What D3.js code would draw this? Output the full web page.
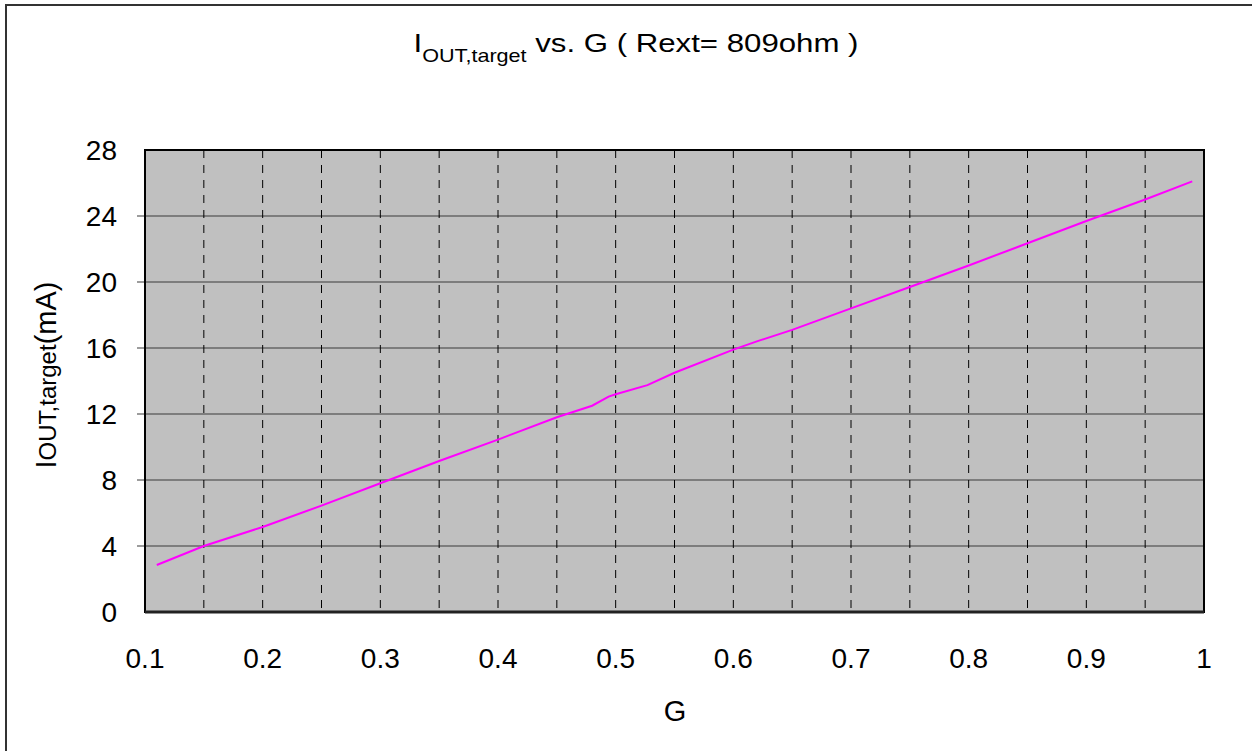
<!DOCTYPE html>
<html>
<head>
<meta charset="utf-8">
<script src="https://cdn.jsdelivr.net/npm/d3@7"></script>
<style>
  body { margin: 0; background: #fff; }
  svg text { font-family: "Liberation Sans", Arial, sans-serif; fill: #000; }
</style>
</head>
<body>
<div id="chart"></div>
<script>
// values
const gValues = [0.11, 0.15, 0.2, 0.25, 0.3, 0.35, 0.4, 0.45, 0.48, 0.494, 0.5, 0.527, 0.55, 0.6, 0.62, 0.65, 0.7, 0.75, 0.8, 0.85, 0.9, 0.95, 0.99];
const iValues = [2.85, 4.0, 5.15, 6.45, 7.8, 9.15, 10.45, 11.8, 12.5, 13.05, 13.2, 13.75, 14.5, 15.9, 16.4, 17.1, 18.4, 19.7, 21.0, 22.35, 23.7, 25.0, 26.1];
const xTicks = [0.1, 0.2, 0.3, 0.4, 0.5, 0.6, 0.7, 0.8, 0.9, 1];
const xGrid = [0.15, 0.2, 0.25, 0.3, 0.35, 0.4, 0.45, 0.5, 0.55, 0.6, 0.65, 0.7, 0.75, 0.8, 0.85, 0.9, 0.95];
const yTicks = [0, 4, 8, 12, 16, 20, 24, 28];

const width = 1252, height = 751;
const margin = {top: 150, left: 145, bottom: 139, right: 48};

const svg = d3.select("#chart").append("svg")
    .attr("width", width).attr("height", height);

// outer frame (right/bottom edges fall off the page)
svg.append("rect")
    .attr("x", 6).attr("y", 5)
    .attr("width", width).attr("height", height)
    .attr("fill", "none").attr("stroke", "#333").attr("stroke-width", 2);

const x = d3.scaleLinear().domain([0.1, 1]).range([margin.left, width - margin.right]);
const y = d3.scaleLinear().domain([0, 28]).range([height - margin.bottom, margin.top]);

svg.append("rect")
    .attr("x", x(0.1)).attr("y", y(28))
    .attr("width", x(1) - x(0.1)).attr("height", y(0) - y(28))
    .attr("fill", "#c0c0c0");

// horizontal grid
svg.append("g")
    .selectAll("line")
    .data(yTicks.slice(1, -1))
    .join("line")
    .attr("x1", x(0.1) - 8).attr("x2", x(1))
    .attr("y1", d => y(d)).attr("y2", d => y(d))
    .attr("stroke", "#3a3a3a").attr("stroke-width", 1.2);

// vertical dashed grid
svg.append("g")
    .selectAll("line")
    .data(xGrid)
    .join("line")
    .attr("x1", d => x(d)).attr("x2", d => x(d))
    .attr("y1", y(28)).attr("y2", y(0))
    .attr("stroke", "#000").attr("stroke-width", 1)
    .attr("stroke-dasharray", "8,7");

// plot frame
svg.append("rect")
    .attr("x", x(0.1)).attr("y", y(28))
    .attr("width", x(1) - x(0.1)).attr("height", y(0) - y(28))
    .attr("fill", "none").attr("stroke", "#000").attr("stroke-width", 2);
svg.append("line")
    .attr("x1", x(0.1)).attr("x2", x(1))
    .attr("y1", y(0)).attr("y2", y(0))
    .attr("stroke", "#222").attr("stroke-width", 3);

// data line
const line = d3.line().x((d, i) => x(gValues[i])).y(d => y(d));
svg.append("path")
    .datum(iValues)
    .attr("d", line)
    .attr("fill", "none")
    .attr("stroke", "#ff00ff")
    .attr("stroke-width", 2);

// tick labels
svg.append("g")
    .selectAll("text")
    .data(yTicks)
    .join("text")
    .attr("x", 117).attr("y", d => y(d))
    .attr("dy", "0.35em")
    .attr("text-anchor", "end")
    .attr("font-size", 28)
    .text(d => d);

svg.append("g")
    .selectAll("text")
    .data(xTicks)
    .join("text")
    .attr("x", d => x(d)).attr("y", 668)
    .attr("text-anchor", "middle")
    .attr("font-size", 28)
    .text(d => d);

// axis titles
svg.append("text")
    .attr("x", 675).attr("y", 721)
    .attr("text-anchor", "middle")
    .attr("font-size", 29)
    .text("G");

const yl = svg.append("text")
    .attr("transform", `translate(56,${375}) rotate(-90)`)
    .attr("text-anchor", "middle")
    .attr("font-size", 29);
yl.append("tspan").text("I");
yl.append("tspan").attr("font-size", 24).text("OUT,target");
yl.append("tspan").text("(mA)");

// title, slightly widened like the original
const title = svg.append("text")
    .attr("transform", "translate(636,52) scale(1.2,1)")
    .attr("text-anchor", "middle")
    .attr("font-size", 26);
title.append("tspan").text("I");
title.append("tspan").attr("font-size", 18).attr("dy", 10).text("OUT,target");
title.append("tspan").attr("dy", -10).text(" vs. G ( Rext= 809ohm )");
</script>
</body>
</html>
